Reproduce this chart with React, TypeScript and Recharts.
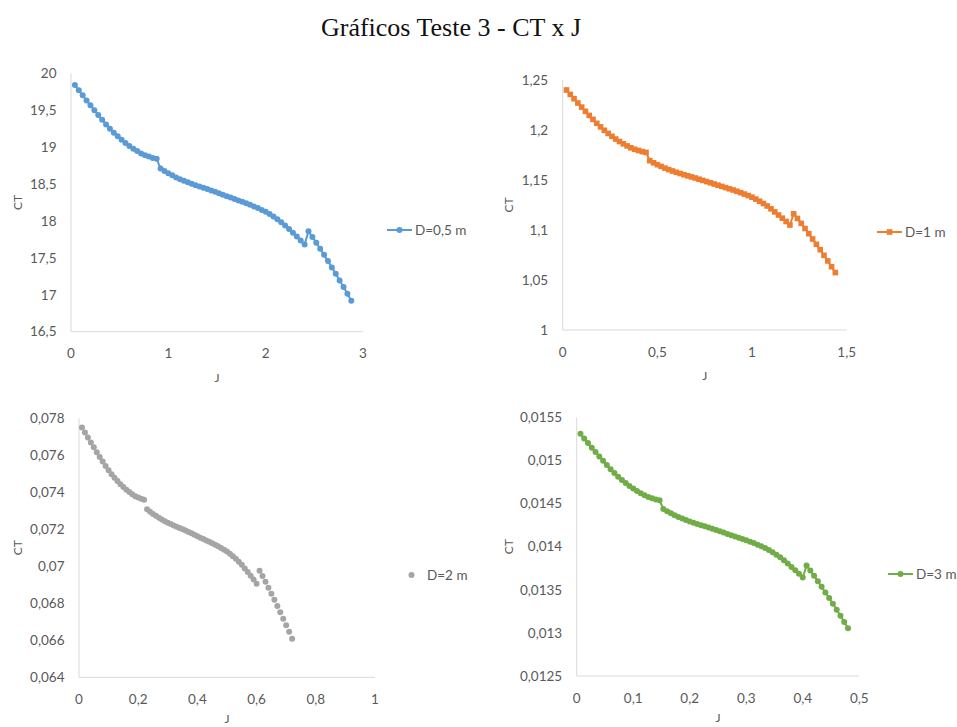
import { ScatterChart, Scatter, XAxis, YAxis, Legend } from "recharts";

// D = 0,5 m
const J_D05 = [
  0.04, 0.08, 0.12, 0.16, 0.2, 0.24, 0.28, 0.32, 0.36, 0.4, 0.44, 0.48, 0.52, 0.56, 0.6, 0.64, 0.68, 0.72, 0.76, 0.8, 0.84, 0.88,
  0.92, 0.96, 1, 1.04, 1.08, 1.12, 1.16, 1.2, 1.24, 1.28, 1.32, 1.36, 1.4, 1.44, 1.48, 1.52, 1.56, 1.6, 1.64, 1.68, 1.72, 1.76,
  1.8, 1.84, 1.88, 1.92, 1.96, 2, 2.04, 2.08, 2.12, 2.16, 2.2, 2.24, 2.28, 2.32, 2.36, 2.4,
  2.44, 2.48, 2.52, 2.56, 2.6, 2.64, 2.68, 2.72, 2.76, 2.8, 2.84, 2.88,
];
const CT_D05 = [
  19.84, 19.77, 19.701, 19.632, 19.566, 19.499, 19.434, 19.37, 19.307, 19.25, 19.195, 19.146, 19.099, 19.056, 19.016, 18.979,
  18.946, 18.915, 18.891, 18.872, 18.854, 18.842,
  18.709, 18.675, 18.645, 18.618, 18.59, 18.566, 18.544, 18.523, 18.504, 18.485, 18.467, 18.45, 18.432, 18.413, 18.394, 18.374,
  18.355, 18.336, 18.317, 18.298, 18.278, 18.259, 18.24, 18.219, 18.197, 18.174, 18.15, 18.125, 18.094, 18.061, 18.024, 17.984,
  17.939, 17.89, 17.84, 17.789, 17.736, 17.68,
  17.859, 17.784, 17.706, 17.624, 17.541, 17.456, 17.371, 17.285, 17.195, 17.106, 17.013, 16.918,
];

// D = 1 m
const J_D1 = [
  0.02, 0.04, 0.06, 0.08, 0.1, 0.12, 0.14, 0.16, 0.18, 0.2, 0.22, 0.24, 0.26, 0.28, 0.3, 0.32, 0.34, 0.36, 0.38, 0.4, 0.42, 0.44,
  0.46, 0.48, 0.5, 0.52, 0.54, 0.56, 0.58, 0.6, 0.62, 0.64, 0.66, 0.68, 0.7, 0.72, 0.74, 0.76, 0.78, 0.8, 0.82, 0.84, 0.86, 0.88,
  0.9, 0.92, 0.94, 0.96, 0.98, 1, 1.02, 1.04, 1.06, 1.08, 1.1, 1.12, 1.14, 1.16, 1.18, 1.2,
  1.22, 1.24, 1.26, 1.28, 1.3, 1.32, 1.34, 1.36, 1.38, 1.4, 1.42, 1.44,
];
const CT_D1 = [
  1.24, 1.2356, 1.2313, 1.227, 1.2229, 1.2187, 1.2146, 1.2106, 1.2067, 1.2031, 1.1997, 1.1966, 1.1937, 1.191, 1.1885, 1.1862,
  1.1841, 1.1822, 1.1807, 1.1795, 1.1784, 1.1776,
  1.1693, 1.1672, 1.1653, 1.1636, 1.1619, 1.1604, 1.159, 1.1577, 1.1565, 1.1553, 1.1542, 1.1531, 1.152, 1.1508, 1.1496, 1.1484,
  1.1472, 1.146, 1.1448, 1.1436, 1.1424, 1.1412, 1.14, 1.1387, 1.1373, 1.1359, 1.1344, 1.1328, 1.1309, 1.1288, 1.1265, 1.124,
  1.1212, 1.1181, 1.115, 1.1118, 1.1085, 1.105,
  1.1162, 1.1115, 1.1066, 1.1015, 1.0963, 1.091, 1.0857, 1.0803, 1.0747, 1.0691, 1.0633, 1.0574,
];

// D = 2 m
const J_D2 = [
  0.01, 0.02, 0.03, 0.04, 0.05, 0.06, 0.07, 0.08, 0.09, 0.1, 0.11, 0.12, 0.13, 0.14, 0.15, 0.16, 0.17, 0.18, 0.19, 0.2, 0.21, 0.22,
  0.23, 0.24, 0.25, 0.26, 0.27, 0.28, 0.29, 0.3, 0.31, 0.32, 0.33, 0.34, 0.35, 0.36, 0.37, 0.38, 0.39, 0.4, 0.41, 0.42, 0.43, 0.44,
  0.45, 0.46, 0.47, 0.48, 0.49, 0.5, 0.51, 0.52, 0.53, 0.54, 0.55, 0.56, 0.57, 0.58, 0.59, 0.6,
  0.61, 0.62, 0.63, 0.64, 0.65, 0.66, 0.67, 0.68, 0.69, 0.7, 0.71, 0.72,
];
const CT_D2 = [
  0.0775, 0.07723, 0.07696, 0.07669, 0.07643, 0.07617, 0.07591, 0.07566, 0.07542, 0.07519, 0.07498, 0.07479, 0.07461, 0.07444,
  0.07428, 0.07414, 0.07401, 0.07389, 0.07379, 0.07372, 0.07365, 0.0736,
  0.07308, 0.07295, 0.07283, 0.07273, 0.07262, 0.07253, 0.07244, 0.07236, 0.07228, 0.07221, 0.07214, 0.07207, 0.072, 0.07193,
  0.07185, 0.07178, 0.0717, 0.07163, 0.07155, 0.07148, 0.0714, 0.07133, 0.07125, 0.07117, 0.07108, 0.07099, 0.0709, 0.0708,
  0.07068, 0.07055, 0.07041, 0.07025, 0.07008, 0.06988, 0.06969, 0.06949, 0.06928, 0.06906,
  0.06976, 0.06947, 0.06916, 0.06884, 0.06852, 0.06819, 0.06786, 0.06752, 0.06717, 0.06682, 0.06646, 0.06609,
];

// D = 3 m
const J_D3 = [
  0.0067, 0.0133, 0.02, 0.0267, 0.0333, 0.04, 0.0467, 0.0533, 0.06, 0.0667, 0.0733, 0.08, 0.0867, 0.0933, 0.1, 0.1067, 0.1133,
  0.12, 0.1267, 0.1333, 0.14, 0.1467,
  0.1533, 0.16, 0.1667, 0.1733, 0.18, 0.1867, 0.1933, 0.2, 0.2067, 0.2133, 0.22, 0.2267, 0.2333, 0.24, 0.2467, 0.2533, 0.26,
  0.2667, 0.2733, 0.28, 0.2867, 0.2933, 0.3, 0.3067, 0.3133, 0.32, 0.3267, 0.3333, 0.34, 0.3467, 0.3533, 0.36, 0.3667, 0.3733,
  0.38, 0.3867, 0.3933, 0.4,
  0.4067, 0.4133, 0.42, 0.4267, 0.4333, 0.44, 0.4467, 0.4533, 0.46, 0.4667, 0.4733, 0.48,
];
const CT_D3 = [
  0.015309, 0.015254, 0.015201, 0.015148, 0.015098, 0.015046, 0.014995, 0.014946, 0.014898, 0.014853, 0.014811, 0.014773,
  0.014737, 0.014704, 0.014673, 0.014644, 0.014619, 0.014595, 0.014577, 0.014562, 0.014548, 0.014538,
  0.014436, 0.01441, 0.014386, 0.014365, 0.014344, 0.014326, 0.014309, 0.014293, 0.014278, 0.014263, 0.014249, 0.014236,
  0.014222, 0.014207, 0.014193, 0.014178, 0.014163, 0.014148, 0.014133, 0.014119, 0.014104, 0.014089, 0.014074, 0.014058,
  0.014041, 0.014023, 0.014005, 0.013985, 0.013962, 0.013936, 0.013907, 0.013877, 0.013842, 0.013804, 0.013765, 0.013726,
  0.013685, 0.013642,
  0.01378, 0.013722, 0.013662, 0.013599, 0.013535, 0.013469, 0.013404, 0.013337, 0.013268, 0.013199, 0.013127, 0.013054,
];

const X_TICKS_D05 = [0, 1, 2, 3];
const Y_TICKS_D05 = [16.5, 17, 17.5, 18, 18.5, 19, 19.5, 20];
const X_TICKS_D1 = [0, 0.5, 1, 1.5];
const Y_TICKS_D1 = [1, 1.05, 1.1, 1.15, 1.2, 1.25];
const X_TICKS_D2 = [0, 0.2, 0.4, 0.6, 0.8, 1];
const Y_TICKS_D2 = [0.064, 0.066, 0.068, 0.07, 0.072, 0.074, 0.076, 0.078];
const X_TICKS_D3 = [0, 0.1, 0.2, 0.3, 0.4, 0.5];
const Y_TICKS_D3 = [0.0125, 0.013, 0.0135, 0.014, 0.0145, 0.015, 0.0155];

const TITLE = "Gráficos Teste 3 - CT x J";
const FONT = "Lato, 'Open Sans', sans-serif";
const TEXT = "#595959";
const AXIS = "#d9d9d9";
const X_AXIS_H = 50;

const virgula = (v: number) => String(v).replace(".", ",");

type Box = { x: number; y: number; w: number; h: number };
type Plot = { l: number; r: number; t: number; b: number };

interface PanelProps {
  box: Box;
  plot: Plot;
  js: number[];
  cts: number[];
  xTicks: number[];
  yTicks: number[];
  color: string;
  marker: "circle" | "square";
  line: boolean;
  nome: string;
  legenda: { x: number; y: number };
  ctX: number;
  jOffset: number;
}

function Marcador({ cx, cy, color, marker }: { cx: number; cy: number; color: string; marker: string }) {
  if (marker === "square") {
    return <rect x={cx - 2.8} y={cy - 2.8} width={5.6} height={5.6} fill={color} />;
  }
  return <circle cx={cx} cy={cy} r={3} fill={color} />;
}

function Painel(p: PanelProps) {
  const dados = p.js.map((j, i) => ({ x: j, y: p.cts[i] }));
  const yW = p.plot.l - p.box.x;
  const margin = {
    left: 0,
    top: p.plot.t - p.box.y,
    right: p.box.x + p.box.w - p.plot.r,
    bottom: p.box.y + p.box.h - p.plot.b - X_AXIS_H,
  };

  const conteudoLegenda = () => (
    <div style={{ display: "flex", alignItems: "center", fontFamily: FONT, fontSize: 13.5, color: TEXT, whiteSpace: "nowrap" }}>
      <svg width={25} height={10}>
        {p.line && <line x1={0} y1={5} x2={25} y2={5} stroke={p.color} strokeWidth={2} />}
        <Marcador cx={12.5} cy={5} color={p.color} marker={p.marker} />
      </svg>
      <span style={{ marginLeft: 3 }}>{p.nome}</span>
    </div>
  );

  return (
    <div style={{ position: "absolute", left: p.box.x, top: p.box.y }}>
      <ScatterChart width={p.box.w} height={p.box.h} margin={margin}>
        <XAxis
          type="number"
          dataKey="x"
          domain={[p.xTicks[0], p.xTicks[p.xTicks.length - 1]]}
          ticks={p.xTicks}
          tickFormatter={virgula}
          height={X_AXIS_H}
          stroke={AXIS}
          tickLine={false}
          tickMargin={11}
          tick={{ fill: TEXT, fontSize: 13.5, fontFamily: FONT }}
          label={{ value: "J", position: "insideBottom", offset: p.jOffset, fill: TEXT, fontSize: 12, fontFamily: FONT }}
        />
        <YAxis
          type="number"
          dataKey="y"
          domain={[p.yTicks[0], p.yTicks[p.yTicks.length - 1]]}
          ticks={p.yTicks}
          tickFormatter={virgula}
          width={yW}
          stroke={AXIS}
          tickLine={false}
          tickMargin={8.5}
          tick={{ fill: TEXT, fontSize: 13.5, fontFamily: FONT }}
          label={{
            value: "CT",
            angle: -90,
            position: "insideLeft",
            offset: p.ctX - p.box.x,
            fill: TEXT,
            fontSize: 12,
            fontFamily: FONT,
            style: { textAnchor: "middle" },
          }}
        />
        <Legend
          layout="horizontal"
          verticalAlign="middle"
          align="center"
          content={conteudoLegenda}
          wrapperStyle={{ left: p.legenda.x - p.box.x, top: p.legenda.y - p.box.y - 9, width: "auto" }}
        />
        <Scatter
          name={p.nome}
          data={dados}
          fill={p.color}
          line={p.line ? { stroke: p.color, strokeWidth: 2 } : false}
          shape={(s: any) => <Marcador cx={s.cx} cy={s.cy} color={p.color} marker={p.marker} />}
          isAnimationActive={false}
        />
      </ScatterChart>
    </div>
  );
}

export default function App() {
  return (
    <div style={{ position: "absolute", left: 0, top: 0, width: 957, height: 727, background: "#fff", overflow: "hidden" }}>
      <div
        style={{
          position: "absolute",
          left: 0,
          top: 15,
          width: 902,
          textAlign: "center",
          fontFamily: "'Liberation Serif', 'Times New Roman', serif",
          fontSize: 26,
          lineHeight: "26px",
          color: "#111",
        }}
      >
        {TITLE}
      </div>
      <Painel
        box={{ x: 0, y: 55, w: 478, h: 335 }}
        plot={{ l: 71, r: 363, t: 73.3, b: 331.7 }}
        js={J_D05}
        cts={CT_D05}
        xTicks={X_TICKS_D05}
        yTicks={Y_TICKS_D05}
        color="#5b9bd5"
        marker="circle"
        line={true}
        nome="D=0,5 m"
        legenda={{ x: 387, y: 231 }}
        ctX={18}
        jOffset={0}
      />
      <Painel
        box={{ x: 478, y: 55, w: 479, h: 335 }}
        plot={{ l: 562.7, r: 846.7, t: 80, b: 330 }}
        js={J_D1}
        cts={CT_D1}
        xTicks={X_TICKS_D1}
        yTicks={Y_TICKS_D1}
        color="#ed7d31"
        marker="square"
        line={true}
        nome="D=1 m"
        legenda={{ x: 877, y: 233 }}
        ctX={509}
        jOffset={0}
      />
      <Painel
        box={{ x: 0, y: 395, w: 478, h: 340 }}
        plot={{ l: 79, r: 375, t: 418.3, b: 677.3 }}
        js={J_D2}
        cts={CT_D2}
        xTicks={X_TICKS_D2}
        yTicks={Y_TICKS_D2}
        color="#a5a5a5"
        marker="circle"
        line={false}
        nome="D=2 m"
        legenda={{ x: 399, y: 576 }}
        ctX={18}
        jOffset={4}
      />
      <Painel
        box={{ x: 478, y: 395, w: 479, h: 340 }}
        plot={{ l: 576.7, r: 859.3, t: 417.3, b: 676 }}
        js={J_D3}
        cts={CT_D3}
        xTicks={X_TICKS_D3}
        yTicks={Y_TICKS_D3}
        color="#70ad47"
        marker="circle"
        line={true}
        nome="D=3 m"
        legenda={{ x: 888, y: 575 }}
        ctX={509}
        jOffset={4}
      />
    </div>
  );
}
